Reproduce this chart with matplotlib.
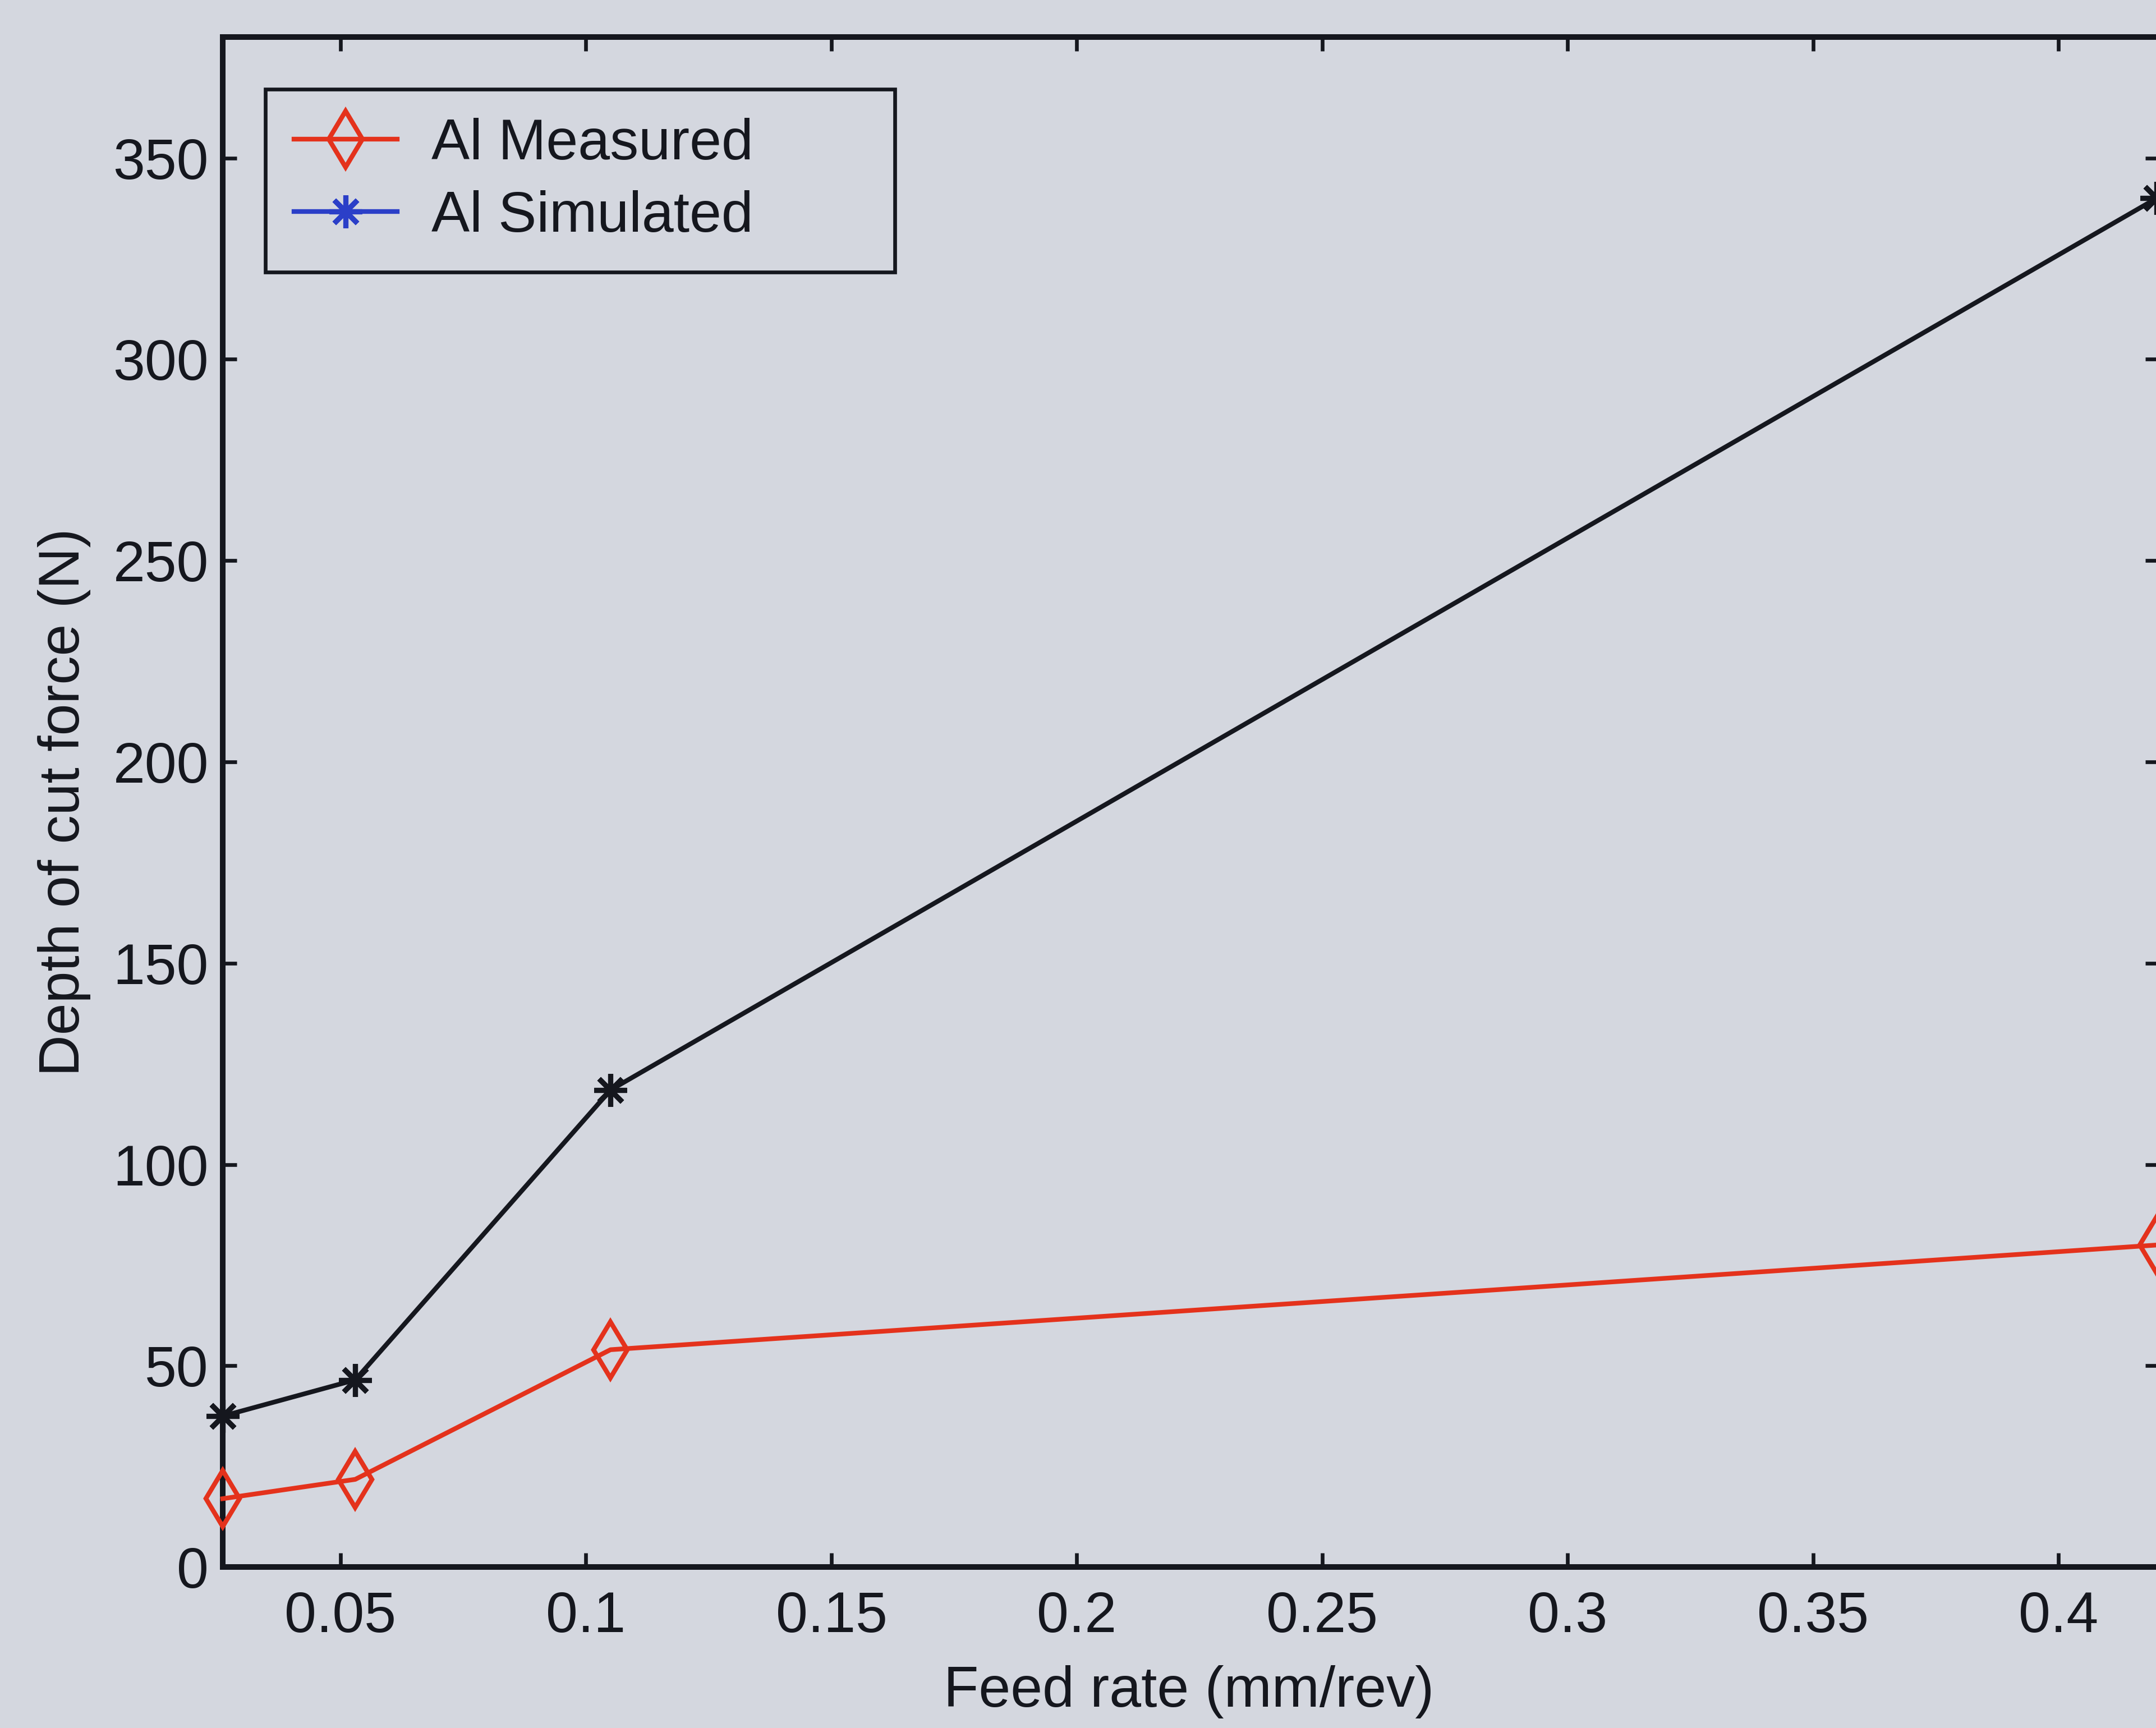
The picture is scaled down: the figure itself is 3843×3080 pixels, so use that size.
import matplotlib
matplotlib.use("Agg")
import matplotlib.pyplot as plt
from matplotlib.lines import Line2D

# Feed rate (mm/rev) and the cutting-force readings (N)
feed_rate = [0.026, 0.053, 0.105, 0.42]
al_measured = [17.0, 21.8, 54.0, 80.0]
al_simulated = [37.5, 46.5, 118.5, 340.0]

x_ticks = [0.05, 0.1, 0.15, 0.2, 0.25, 0.3, 0.35, 0.4]
x_tick_labels = ["0.05", "0.1", "0.15", "0.2", "0.25", "0.3", "0.35", "0.4"]
y_ticks = [0, 50, 100, 150, 200, 250, 300, 350]
y_tick_labels = ["0", "50", "100", "150", "200", "250", "300", "350"]

bg = "#d4d7df"
ink = "#15171e"
red = "#e4321c"
blue = "#2b3fc8"
fs = 24.5

plt.rcParams["font.family"] = ["Liberation Sans", "DejaVu Sans"]

fig = plt.figure(figsize=(12.81, 10.2667), dpi=300, facecolor=bg)
ax = fig.add_axes([0.1033, 0.0931, 0.8982, 0.8854], facecolor=bg)

ax.plot(feed_rate, al_measured, color=red, lw=2.0, marker="d", ms=17,
        mfc="none", mec=red, mew=2.0, zorder=3, clip_on=False)
ax.plot(feed_rate, al_simulated, color=ink, lw=2.0, marker=(8, 2, 0), ms=14,
        mec=ink, mew=2.2, zorder=3, clip_on=False)

ax.set_xlim(0.026, 0.4205)
ax.set_ylim(0, 380)
ax.set_xticks(x_ticks)
ax.set_xticklabels(x_tick_labels)
ax.set_yticks(y_ticks)
ax.set_yticklabels(y_tick_labels)

ax.tick_params(direction="in", length=6, width=1.6, color=ink,
               labelsize=fs, labelcolor=ink, top=True, right=True)
ax.tick_params(axis="x", pad=10)
ax.tick_params(axis="y", pad=6)
for s in ax.spines.values():
    s.set_linewidth(2.4)
    s.set_color(ink)

ax.set_xlabel("Feed rate (mm/rev)", fontsize=fs, color=ink)
ax.set_ylabel("Depth of cut force (N)", fontsize=fs, color=ink)
ax.xaxis.set_label_coords(0.499, -0.064)
ax.yaxis.set_label_coords(-0.068, 0.5)

handles = [
    Line2D([], [], color=red, lw=2.0, marker="d", ms=17, mfc="none",
           mec=red, mew=2.0),
    Line2D([], [], color=blue, lw=2.0, marker=(8, 2, 0), ms=14,
           mec=blue, mew=2.2),
]
leg = ax.legend(handles, ["Al Measured", "Al Simulated"],
                loc="upper left", bbox_to_anchor=(0.022, 0.966, 0.325, 0.0),
                mode="expand", borderaxespad=0, fontsize=fs,
                handlelength=1.8, handletextpad=0.6, labelspacing=0.33,
                borderpad=0.5, fancybox=False, framealpha=1,
                facecolor=bg, edgecolor=ink)
leg.get_frame().set_linewidth(1.6)
for t in leg.get_texts():
    t.set_color(ink)

fig.savefig("out.png", dpi=300, facecolor=bg)
